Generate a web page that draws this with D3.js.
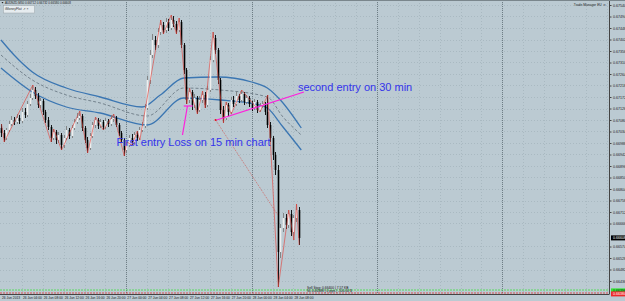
<!DOCTYPE html>
<html>
<head>
<meta charset="utf-8">
<script src="https://cdn.jsdelivr.net/npm/d3@7"></script>
<style>
  html, body { margin: 0; padding: 0; background: #bbcad2; overflow: hidden; }
  svg { display: block; }
</style>
</head>
<body>
<svg id="chart" width="625" height="301"></svg>
<script>
'use strict';

// M30 bars from 26 Jun 2013 00:00
var opens = [0.67048,0.67028,0.67008,0.67040,0.67064,0.67080,0.67072,0.67088,0.67076,0.67112,
  0.67100,0.67144,0.67168,0.67200,0.67176,0.67140,0.67156,0.67112,0.67080,0.67052,
  0.67008,0.67032,0.67000,0.67020,0.66980,0.67008,0.67040,0.67016,0.67048,0.67072,
  0.67088,0.67096,0.67048,0.67000,0.66968,0.67016,0.67060,0.67080,0.67056,0.67072,
  0.67052,0.67076,0.67064,0.67084,0.67088,0.67060,0.67028,0.67000,0.66960,0.66980,
  0.67008,0.66992,0.67020,0.67008,0.67040,0.67056,0.67128,0.67240,0.67340,0.67400,
  0.67380,0.67432,0.67460,0.67440,0.67472,0.67448,0.67480,0.67464,0.67440,0.67472,
  0.67380,0.67280,0.67160,0.67192,0.67140,0.67168,0.67120,0.67160,0.67180,0.67140,
  0.67200,0.67320,0.67408,0.67360,0.67240,0.67120,0.67088,0.67140,0.67112,0.67160,
  0.67144,0.67176,0.67160,0.67184,0.67152,0.67168,0.67144,0.67128,0.67152,0.67120,
  0.67136,0.67144,0.67112,0.67060,0.67008,0.66940,0.66880,0.66552,0.66648,0.66688,
  0.66660,0.66704,0.66632,0.66688,0.66720];
var highs = [0.67064,0.67040,0.67048,0.67076,0.67096,0.67092,0.67104,0.67100,0.67128,0.67128,
  0.67156,0.67184,0.67220,0.67212,0.67188,0.67168,0.67164,0.67120,0.67092,0.67060,
  0.67044,0.67040,0.67032,0.67028,0.67020,0.67056,0.67048,0.67060,0.67084,0.67108,
  0.67116,0.67104,0.67056,0.67012,0.67028,0.67072,0.67092,0.67088,0.67084,0.67080,
  0.67088,0.67084,0.67100,0.67104,0.67096,0.67068,0.67036,0.67008,0.66992,0.67020,
  0.67024,0.67032,0.67036,0.67052,0.67072,0.67144,0.67256,0.67360,0.67424,0.67416,
  0.67448,0.67480,0.67472,0.67488,0.67484,0.67500,0.67496,0.67476,0.67488,0.67480,
  0.67388,0.67288,0.67208,0.67200,0.67184,0.67176,0.67176,0.67196,0.67192,0.67216,
  0.67336,0.67432,0.67420,0.67368,0.67248,0.67136,0.67152,0.67148,0.67172,0.67176,
  0.67192,0.67184,0.67200,0.67192,0.67180,0.67176,0.67156,0.67164,0.67160,0.67148,
  0.67156,0.67152,0.67180,0.67072,0.67016,0.66952,0.66900,0.66664,0.66708,0.66704,
  0.66720,0.66720,0.66700,0.66744,0.66732];
var lows = [0.67012,0.66992,0.67000,0.67032,0.67056,0.67060,0.67064,0.67064,0.67068,0.67088,
  0.67092,0.67136,0.67160,0.67164,0.67128,0.67128,0.67100,0.67068,0.67040,0.66992,
  0.67000,0.66984,0.66988,0.66960,0.66968,0.67000,0.67004,0.67008,0.67040,0.67064,
  0.67080,0.67036,0.66988,0.66948,0.66960,0.67008,0.67048,0.67044,0.67048,0.67040,
  0.67044,0.67052,0.67056,0.67072,0.67052,0.67016,0.66988,0.66936,0.66948,0.66972,
  0.66980,0.66984,0.66996,0.67000,0.67032,0.67048,0.67120,0.67224,0.67328,0.67360,
  0.67368,0.67420,0.67424,0.67428,0.67436,0.67440,0.67452,0.67424,0.67432,0.67368,
  0.67264,0.67144,0.67148,0.67120,0.67128,0.67104,0.67112,0.67148,0.67128,0.67132,
  0.67192,0.67312,0.67344,0.67224,0.67104,0.67068,0.67080,0.67096,0.67104,0.67132,
  0.67136,0.67148,0.67152,0.67140,0.67144,0.67132,0.67116,0.67120,0.67108,0.67112,
  0.67128,0.67100,0.67048,0.66992,0.66920,0.66860,0.66412,0.66528,0.66632,0.66644,
  0.66648,0.66616,0.66600,0.66672,0.66580];
var closes = [0.67028,0.67008,0.67040,0.67064,0.67080,0.67072,0.67088,0.67076,0.67112,0.67100,
  0.67144,0.67168,0.67200,0.67176,0.67140,0.67156,0.67112,0.67080,0.67052,0.67008,
  0.67032,0.67000,0.67020,0.66980,0.67008,0.67040,0.67016,0.67048,0.67072,0.67088,
  0.67096,0.67048,0.67000,0.66968,0.67016,0.67060,0.67080,0.67056,0.67072,0.67052,
  0.67076,0.67064,0.67084,0.67088,0.67060,0.67028,0.67000,0.66960,0.66980,0.67008,
  0.66992,0.67020,0.67008,0.67040,0.67056,0.67128,0.67240,0.67340,0.67400,0.67380,
  0.67432,0.67460,0.67440,0.67472,0.67448,0.67480,0.67464,0.67440,0.67472,0.67380,
  0.67280,0.67160,0.67192,0.67140,0.67168,0.67120,0.67160,0.67180,0.67140,0.67200,
  0.67320,0.67408,0.67360,0.67240,0.67120,0.67088,0.67140,0.67112,0.67160,0.67144,
  0.67176,0.67160,0.67184,0.67152,0.67168,0.67144,0.67128,0.67152,0.67120,0.67136,
  0.67144,0.67112,0.67060,0.67008,0.66940,0.66880,0.66552,0.66648,0.66688,0.66660,
  0.66704,0.66632,0.66688,0.66720,0.66608];

// zigzag pivots (bar index, price)
var zigIdx = [0, 1, 12, 19, 20, 23, 30, 33, 36, 39, 43, 47, 48, 50, 52, 53,
  61, 62, 65, 67, 68, 71, 72, 75, 77, 78, 81, 85, 86, 88, 92, 99, 102, 106, 110, 112, 113, 114];
var zigPrice = [0.67064, 0.66992, 0.67220, 0.66992, 0.67044, 0.66960, 0.67116, 0.66948, 0.67092, 0.67040,
  0.67104, 0.66936, 0.66992, 0.66980, 0.67036, 0.67000,
  0.67480, 0.67424, 0.67500, 0.67424, 0.67488, 0.67144, 0.67208, 0.67104, 0.67196, 0.67128,
  0.67432, 0.67068, 0.67152, 0.67104, 0.67200, 0.67112, 0.67180, 0.66412, 0.66720, 0.66600, 0.66744, 0.66580];

// envelope bands, sampled at a few bars
var upperIdx = [0, 5, 12, 25, 38, 54, 61, 70, 83, 96, 102, 107, 115];
var upperVal = [0.67400, 0.67340, 0.67272, 0.67208, 0.67172, 0.67132, 0.67180, 0.67248, 0.67252, 0.67232, 0.67208, 0.67160, 0.67048];
var midIdx = [0, 12, 25, 38, 56, 70, 84, 102, 108, 115];
var midVal = [0.67340, 0.67240, 0.67180, 0.67148, 0.67096, 0.67208, 0.67200, 0.67172, 0.67092, 0.67020];
var lowerIdx = [0, 12, 25, 38, 56, 70, 84, 99, 102, 108, 115];
var lowerVal = [0.67288, 0.67192, 0.67132, 0.67108, 0.67060, 0.67168, 0.67160, 0.67140, 0.67128, 0.67052, 0.66960];

var priceTicks = [0.67540, 0.67494, 0.67448, 0.67402, 0.67356, 0.67310, 0.67264, 0.67218, 0.67172,
  0.67126, 0.67080, 0.67034, 0.66988, 0.66942, 0.66896, 0.66850, 0.66804, 0.66758, 0.66712,
  0.66666, 0.66574, 0.66528, 0.66482, 0.66436];
var timeLabels = ['26 Jun 2013', '26 Jun 04:00', '26 Jun 08:00', '26 Jun 12:00', '26 Jun 16:00',
  '26 Jun 20:00', '27 Jun 00:00', '27 Jun 04:00', '27 Jun 08:00', '27 Jun 12:00', '27 Jun 16:00',
  '27 Jun 20:00', '28 Jun 00:00', '28 Jun 04:00', '28 Jun 08:00'];

// drawn objects
var noteText = ['First entry Loss on 15 min chart', 'second entry on 30 min'];
var noteIdx = [44.2, 113.7];
var notePrice = [0.66976, 0.67196];
var trendLines = [
  [[69.5, 0.67020], [71.4, 0.67136]],
  [[70.0, 0.67136], [73.4, 0.67136]],
  [[82.6, 0.67080], [116.0, 0.67192]]
];
var stopLine = [[82.2, 0.67080], [106.0, 0.66700]];
var sellStopPrice = 0.66400;
var slPrice = 0.66388;
var lastPrice = 0.66608;

var t0 = Date.UTC(2013, 5, 26, 0, 0);
var HALF_HOUR = 30 * 60 * 1000;
function barTime(i) {
  return new Date(t0 + i * HALF_HOUR);
}

var plotRight = 609.5;
var plotBottom = 294;

var svg = d3.select('#chart');
var x = d3.scaleUtc()
  .domain([new Date(t0), new Date(t0 + 3 * 24 * 3600 * 1000)])
  .range([1, 377]);
var y = d3.scaleLinear().domain([0.66384, 0.67560]).range([plotBottom, 0]);

svg.append('rect').attr('width', 625).attr('height', 301).attr('fill', '#bbcad2');

// grid
var gridEnd = x.invert(plotRight);
var grid = svg.append('g').attr('stroke', '#a2b2ba').attr('stroke-width', 0.7).attr('stroke-dasharray', '1,2');
grid.selectAll('line.v')
  .data(d3.utcHour.every(4).range(new Date(t0 + 1), gridEnd))
  .enter().append('line')
  .attr('x1', function(d) { return Math.round(x(d)) + 0.5; })
  .attr('x2', function(d) { return Math.round(x(d)) + 0.5; })
  .attr('y1', 0).attr('y2', plotBottom);
grid.selectAll('line.h')
  .data(priceTicks)
  .enter().append('line')
  .attr('x1', 0).attr('x2', plotRight)
  .attr('y1', function(d) { return Math.round(y(d)) + 0.5; })
  .attr('y2', function(d) { return Math.round(y(d)) + 0.5; });

// day separators
svg.append('g').selectAll('line')
  .data(d3.utcDay.range(new Date(t0 + 1), gridEnd))
  .enter().append('line')
  .attr('x1', function(d) { return Math.round(x(d)) + 0.5; })
  .attr('x2', function(d) { return Math.round(x(d)) + 0.5; })
  .attr('y1', 0).attr('y2', plotBottom)
  .attr('stroke', '#5d6c74').attr('stroke-width', 0.8).attr('stroke-dasharray', '1,1');

// bands
function bandLine(idx, vals) {
  var pts = idx.map(function(d, k) { return [x(barTime(d)), y(vals[k])]; });
  return d3.line().curve(d3.curveMonotoneX)(pts);
}
svg.append('path').attr('d', bandLine(upperIdx, upperVal))
  .attr('fill', 'none').attr('stroke', '#3b76b2').attr('stroke-width', 1.3);
svg.append('path').attr('d', bandLine(lowerIdx, lowerVal))
  .attr('fill', 'none').attr('stroke', '#3b76b2').attr('stroke-width', 1.3);
svg.append('path').attr('d', bandLine(midIdx, midVal))
  .attr('fill', 'none').attr('stroke', '#6c7a86').attr('stroke-width', 0.9).attr('stroke-dasharray', '3,2');

// candles
var bars = d3.range(closes.length);
var candles = svg.append('g').selectAll('g')
  .data(bars)
  .enter().append('g');
candles.append('line')
  .attr('x1', function(i) { return Math.round(x(barTime(i))) + 0.5; })
  .attr('x2', function(i) { return Math.round(x(barTime(i))) + 0.5; })
  .attr('y1', function(i) { return y(highs[i]); })
  .attr('y2', function(i) { return y(lows[i]); })
  .attr('stroke', function(i) { return closes[i] >= opens[i] ? '#7d7d7d' : '#000'; })
  .attr('stroke-width', 0.9);
candles.append('rect')
  .attr('x', function(i) { return Math.round(x(barTime(i))) - 0.3; })
  .attr('width', 1.6)
  .attr('y', function(i) { return y(Math.max(opens[i], closes[i])); })
  .attr('height', function(i) { return Math.max(0.8, Math.abs(y(opens[i]) - y(closes[i]))); })
  .attr('fill', function(i) { return closes[i] >= opens[i] ? '#eeeeee' : '#000'; });

// zigzag
var zigPts = zigIdx.map(function(d, k) { return [x(barTime(d)) + 0.5, y(zigPrice[k])]; });
svg.append('path').attr('d', d3.line()(zigPts))
  .attr('fill', 'none').attr('stroke', '#e2463f').attr('stroke-width', 0.8).attr('stroke-opacity', 0.8);

// stop line + dot
svg.append('line')
  .attr('x1', x(barTime(stopLine[0][0]))).attr('y1', y(stopLine[0][1]))
  .attr('x2', x(barTime(stopLine[1][0]))).attr('y2', y(stopLine[1][1]))
  .attr('stroke', '#d2504a').attr('stroke-width', 0.7).attr('stroke-dasharray', '1,1');
svg.append('circle')
  .attr('cx', x(barTime(stopLine[0][0]))).attr('cy', y(stopLine[0][1]))
  .attr('r', 1.1).attr('fill', '#e01818');

// magenta trend lines
svg.append('g').selectAll('line')
  .data(trendLines)
  .enter().append('line')
  .attr('x1', function(d) { return x(barTime(d[0][0])); })
  .attr('y1', function(d) { return y(d[0][1]); })
  .attr('x2', function(d) { return x(barTime(d[1][0])); })
  .attr('y2', function(d) { return y(d[1][1]); })
  .attr('stroke', '#ff1fdc').attr('stroke-width', 1.2);

// annotations
svg.append('g').selectAll('text')
  .data(noteText)
  .enter().append('text')
  .attr('x', function(d, k) { return x(barTime(noteIdx[k])); })
  .attr('y', function(d, k) { return y(notePrice[k]); })
  .style('font-family', '"Liberation Sans", Arial, sans-serif')
  .style('font-size', '11px')
  .attr('fill', '#3434ea')
  .text(function(d) { return d; });

// order lines
svg.append('line')
  .attr('x1', 0).attr('x2', plotRight)
  .attr('y1', y(sellStopPrice)).attr('y2', y(sellStopPrice))
  .attr('stroke', '#3ee03e').attr('stroke-width', 0.8).attr('stroke-dasharray', '2,1');
svg.append('line')
  .attr('x1', 0).attr('x2', plotRight)
  .attr('y1', y(slPrice)).attr('y2', y(slPrice))
  .attr('stroke', '#e03030').attr('stroke-width', 0.8).attr('stroke-dasharray', '2,1');
svg.append('text')
  .attr('x', x(barTime(117.2))).attr('y', y(sellStopPrice) - 1.5)
  .style('font-family', '"Liberation Sans", Arial, sans-serif').style('font-size', '3.3px')
  .attr('fill', '#111').text('Sell Stop: 0.66400 | 7.57 KB');
svg.append('text')
  .attr('x', x(barTime(117.2))).attr('y', y(slPrice) - 0.6)
  .style('font-family', '"Liberation Sans", Arial, sans-serif').style('font-size', '3.3px')
  .attr('fill', '#111').text('SL 0.66388 | 0 pips | -100.00 $');

// price axis
var yAxis = svg.append('g')
  .attr('transform', 'translate(' + plotRight + ',0)')
  .call(d3.axisRight(y).tickValues(priceTicks).tickSize(2).tickFormat(d3.format('.5f')));
yAxis.select('.domain').attr('stroke', '#444').attr('d', 'M0,0V' + plotBottom);
yAxis.selectAll('line').attr('stroke', '#444');
yAxis.selectAll('text')
  .attr('x', 3.5)
  .style('font-family', '"Liberation Sans", Arial, sans-serif')
  .style('font-size', '3.6px')
  .attr('fill', '#222');

function axisTag(price, bg, fg) {
  var g = svg.append('g').attr('transform', 'translate(' + (plotRight + 1.5) + ',' + y(price) + ')');
  g.append('rect').attr('x', 0).attr('y', -2.6).attr('width', 14).attr('height', 5).attr('fill', bg);
  g.append('text').attr('x', 2).attr('y', 1.3)
    .style('font-family', '"Liberation Sans", Arial, sans-serif').style('font-size', '3.6px')
    .attr('fill', fg).text(d3.format('.5f')(price));
}
axisTag(lastPrice, '#000', '#fff');
axisTag(sellStopPrice - 0.00004, '#33e633', '#111');
axisTag(slPrice - 0.00004, '#ee2a2a', '#fff');

// time axis
svg.append('line').attr('x1', 0).attr('x2', plotRight).attr('y1', plotBottom + 0.5).attr('y2', plotBottom + 0.5)
  .attr('stroke', '#444');
svg.append('g').selectAll('text')
  .data(timeLabels)
  .enter().append('text')
  .attr('x', function(d, k) { return x(barTime(k * 8)) + 1; })
  .attr('y', 299)
  .style('font-family', '"Liberation Sans", Arial, sans-serif')
  .style('font-size', '3.3px')
  .attr('fill', '#222')
  .text(function(d) { return d; });

// header bits
svg.append('line').attr('x1', 0).attr('x2', 625).attr('y1', 0.5).attr('y2', 0.5).attr('stroke', '#7a868c');
svg.append('text').attr('x', 5).attr('y', 4)
  .style('font-family', '"Liberation Sans", Arial, sans-serif').style('font-size', '3px')
  .attr('fill', '#222').text('AUDNZD,M30  0.66712 0.66732 0.66580 0.66608');
svg.append('path').attr('d', 'M1.5,2 L3.5,2 L2.5,3.5 Z').attr('fill', '#222');
svg.append('rect').attr('x', 3.5).attr('y', 5.5).attr('width', 31).attr('height', 7.5)
  .attr('fill', '#e6ecef').attr('stroke', '#9aa4a8').attr('stroke-width', 0.5);
svg.append('text').attr('x', 5).attr('y', 10.3)
  .style('font-family', '"Liberation Sans", Arial, sans-serif').style('font-size', '3.4px')
  .attr('fill', '#333').text('iMoneyFlat \u2197      \u00d7');
svg.append('text').attr('x', 606).attr('y', 6.2).attr('text-anchor', 'end')
  .style('font-family', '"Liberation Sans", Arial, sans-serif').style('font-size', '3.3px')
  .attr('fill', '#222').text('Trade Manager EU \u263a');
</script>
</body>
</html>
